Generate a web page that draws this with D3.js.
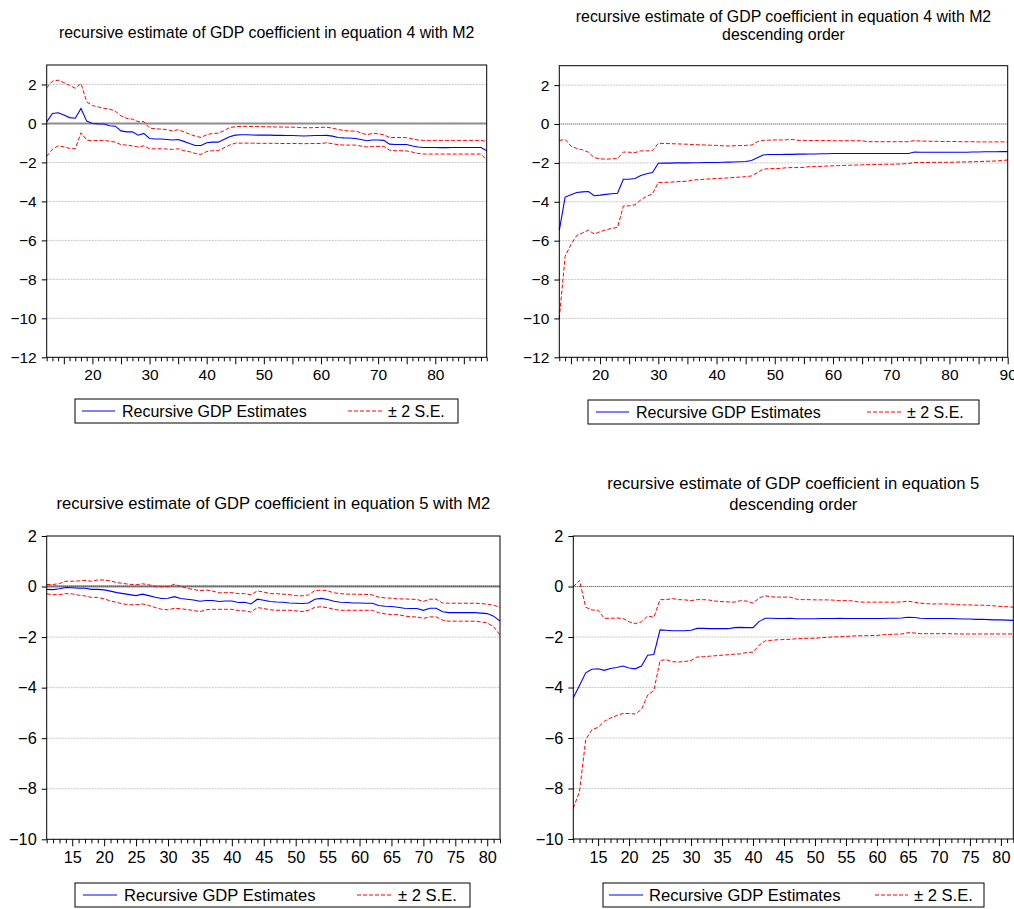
<!DOCTYPE html>
<html>
<head>
<meta charset="utf-8">
<script src="https://cdn.jsdelivr.net/npm/d3@7"></script>
<style>
  html, body { margin: 0; padding: 0; background: #fff; }
  svg { display: block; }
</style>
</head>
<body>
<svg id="chart" width="1014" height="909"></svg>
<script>
// ---------------- DATA ----------------
// Panel 1: equation 4 with M2 (observations 12..89)
const tlStart = 12;
const tlEstimate = [0.08,0.51,0.55,0.43,0.30,0.27,0.77,0.12,0.00,-0.02,-0.03,-0.12,-0.14,-0.38,-0.43,-0.43,-0.60,-0.51,-0.77,-0.80,
  -0.80,-0.82,-0.85,-0.82,-0.92,-1.03,-1.13,-1.13,-0.99,-0.96,-0.96,-0.82,-0.68,-0.60,-0.58,-0.58,-0.59,-0.60,-0.60,-0.60,
  -0.61,-0.61,-0.62,-0.62,-0.63,-0.64,-0.63,-0.62,-0.62,-0.61,-0.65,-0.72,-0.74,-0.75,-0.77,-0.82,-0.89,-0.85,-0.85,-0.87,
  -1.06,-1.08,-1.08,-1.08,-1.16,-1.21,-1.23,-1.23,-1.23,-1.24,-1.24,-1.23,-1.23,-1.23,-1.23,-1.23,-1.23,-1.40];
const tlUpper = [1.83,2.17,2.22,2.10,1.95,1.81,2.05,1.11,0.92,0.85,0.77,0.74,0.63,0.39,0.26,0.22,0.09,0.10,-0.24,-0.27,
  -0.29,-0.31,-0.39,-0.32,-0.43,-0.55,-0.65,-0.72,-0.58,-0.51,-0.50,-0.38,-0.21,-0.17,-0.15,-0.15,-0.16,-0.16,-0.17,-0.17,
  -0.18,-0.18,-0.19,-0.19,-0.20,-0.22,-0.22,-0.21,-0.20,-0.19,-0.24,-0.31,-0.36,-0.39,-0.39,-0.48,-0.58,-0.51,-0.53,-0.58,
  -0.72,-0.72,-0.72,-0.73,-0.79,-0.85,-0.87,-0.87,-0.87,-0.87,-0.87,-0.87,-0.87,-0.87,-0.87,-0.87,-0.87,-0.92];
const tlLower = [-1.68,-1.33,-1.15,-1.20,-1.28,-1.30,-0.48,-0.85,-0.89,-0.87,-0.87,-0.91,-0.96,-1.09,-1.11,-1.15,-1.21,-1.15,-1.30,-1.30,
  -1.30,-1.31,-1.33,-1.30,-1.40,-1.45,-1.54,-1.59,-1.44,-1.40,-1.40,-1.25,-1.11,-1.01,-1.01,-1.01,-1.01,-1.02,-1.02,-1.02,
  -1.02,-1.03,-1.03,-1.03,-1.03,-1.04,-1.03,-1.03,-1.03,-0.99,-1.04,-1.09,-1.11,-1.11,-1.11,-1.16,-1.21,-1.18,-1.18,-1.18,
  -1.37,-1.40,-1.40,-1.41,-1.47,-1.54,-1.57,-1.57,-1.57,-1.57,-1.57,-1.57,-1.57,-1.57,-1.57,-1.57,-1.57,-1.88];

// Panel 2: equation 4 with M2, descending order (observations 13..90)
const trStart = 13;
const trEstimate = [-5.47,-3.76,-3.64,-3.52,-3.49,-3.47,-3.69,-3.66,-3.62,-3.59,-3.56,-2.84,-2.84,-2.80,-2.65,-2.56,-2.50,-2.02,-2.01,-2.01,
  -2.00,-2.00,-2.00,-1.99,-1.99,-1.98,-1.98,-1.98,-1.97,-1.96,-1.95,-1.94,-1.93,-1.88,-1.74,-1.59,-1.57,-1.57,-1.57,-1.56,
  -1.56,-1.55,-1.55,-1.54,-1.54,-1.53,-1.53,-1.52,-1.52,-1.52,-1.52,-1.52,-1.52,-1.52,-1.52,-1.52,-1.52,-1.52,-1.52,-1.52,
  -1.52,-1.44,-1.45,-1.45,-1.45,-1.45,-1.45,-1.45,-1.45,-1.45,-1.45,-1.44,-1.44,-1.43,-1.43,-1.43,-1.42,-1.42];
const trUpper = [-0.85,-0.79,-1.13,-1.26,-1.33,-1.45,-1.73,-1.79,-1.81,-1.79,-1.78,-1.44,-1.45,-1.47,-1.38,-1.38,-1.37,-0.99,-1.00,-1.01,
  -1.02,-1.03,-1.04,-1.06,-1.07,-1.08,-1.09,-1.10,-1.12,-1.13,-1.12,-1.11,-1.10,-1.08,-0.91,-0.84,-0.83,-0.82,-0.82,-0.81,
  -0.79,-0.84,-0.84,-0.85,-0.85,-0.85,-0.85,-0.86,-0.86,-0.86,-0.86,-0.86,-0.86,-0.91,-0.91,-0.91,-0.91,-0.91,-0.91,-0.91,
  -0.91,-0.85,-0.88,-0.88,-0.89,-0.89,-0.90,-0.90,-0.90,-0.91,-0.91,-0.91,-0.92,-0.92,-0.92,-0.92,-0.92,-0.92];
const trLower = [-10.0,-6.80,-6.20,-5.73,-5.60,-5.46,-5.66,-5.54,-5.44,-5.37,-5.32,-4.22,-4.21,-4.15,-3.90,-3.72,-3.59,-3.01,-3.00,-2.99,
  -2.97,-2.96,-2.94,-2.88,-2.86,-2.84,-2.82,-2.80,-2.79,-2.77,-2.75,-2.73,-2.71,-2.67,-2.50,-2.32,-2.30,-2.29,-2.28,-2.25,
  -2.24,-2.24,-2.23,-2.19,-2.19,-2.18,-2.16,-2.15,-2.14,-2.13,-2.12,-2.11,-2.10,-2.09,-2.08,-2.08,-2.07,-2.07,-2.06,-2.05,
  -2.03,-1.98,-1.98,-1.98,-1.97,-1.97,-1.97,-1.97,-1.96,-1.95,-1.95,-1.94,-1.93,-1.92,-1.91,-1.90,-1.88,-1.85];

// Panel 3: equation 5 with M2 (observations 11..82)
const blStart = 11;
const blEstimate = [-0.11,-0.12,-0.09,-0.04,-0.05,-0.07,-0.07,-0.11,-0.11,-0.13,-0.18,-0.24,-0.28,-0.32,-0.36,-0.30,-0.36,-0.42,-0.47,-0.46,
  -0.40,-0.47,-0.50,-0.53,-0.58,-0.55,-0.55,-0.59,-0.57,-0.57,-0.63,-0.62,-0.69,-0.50,-0.54,-0.59,-0.61,-0.62,-0.65,-0.66,
  -0.67,-0.65,-0.50,-0.47,-0.51,-0.58,-0.62,-0.63,-0.65,-0.65,-0.66,-0.66,-0.75,-0.78,-0.79,-0.82,-0.86,-0.87,-0.87,-0.94,
  -0.86,-0.86,-1.00,-1.03,-1.03,-1.03,-1.03,-1.03,-1.05,-1.07,-1.17,-1.37];
const blUpper = [0.08,0.08,0.12,0.21,0.21,0.22,0.24,0.21,0.26,0.26,0.22,0.16,0.12,0.09,0.07,0.11,0.07,0.01,-0.01,0.00,
  0.09,0.00,-0.07,-0.12,-0.16,-0.14,-0.18,-0.25,-0.24,-0.24,-0.28,-0.28,-0.33,-0.17,-0.22,-0.28,-0.28,-0.30,-0.32,-0.36,
  -0.37,-0.33,-0.16,-0.14,-0.17,-0.25,-0.28,-0.30,-0.30,-0.31,-0.31,-0.33,-0.42,-0.45,-0.46,-0.49,-0.49,-0.50,-0.51,-0.59,
  -0.50,-0.50,-0.65,-0.66,-0.66,-0.66,-0.66,-0.66,-0.67,-0.70,-0.74,-0.82];
const blLower = [-0.29,-0.32,-0.32,-0.28,-0.29,-0.34,-0.37,-0.43,-0.43,-0.49,-0.57,-0.63,-0.69,-0.72,-0.72,-0.69,-0.75,-0.83,-0.90,-0.92,
  -0.86,-0.88,-0.91,-0.95,-0.99,-0.92,-0.90,-0.90,-0.90,-0.90,-0.95,-0.96,-1.01,-0.83,-0.87,-0.92,-0.94,-0.94,-0.94,-0.96,
  -0.99,-0.94,-0.82,-0.80,-0.84,-0.90,-0.94,-0.94,-0.94,-0.94,-0.94,-0.94,-1.04,-1.08,-1.11,-1.11,-1.16,-1.20,-1.20,-1.26,
  -1.20,-1.20,-1.33,-1.37,-1.37,-1.37,-1.37,-1.37,-1.40,-1.44,-1.59,-1.92];

// Panel 4: equation 5, descending order (observations 11..82)
const brStart = 11;
const brEstimate = [-4.41,-3.92,-3.42,-3.28,-3.26,-3.32,-3.25,-3.21,-3.15,-3.23,-3.26,-3.15,-2.72,-2.69,-1.72,-1.73,-1.75,-1.75,-1.75,-1.73,
  -1.66,-1.66,-1.67,-1.67,-1.67,-1.67,-1.63,-1.62,-1.63,-1.63,-1.38,-1.26,-1.26,-1.27,-1.27,-1.26,-1.28,-1.28,-1.28,-1.28,
  -1.27,-1.27,-1.27,-1.26,-1.27,-1.27,-1.27,-1.27,-1.27,-1.27,-1.27,-1.26,-1.26,-1.25,-1.22,-1.23,-1.26,-1.27,-1.27,-1.27,
  -1.27,-1.27,-1.28,-1.29,-1.29,-1.30,-1.30,-1.31,-1.32,-1.32,-1.33,-1.34];
const brUpper = [-0.01,0.24,-0.82,-0.93,-0.94,-1.26,-1.26,-1.25,-1.26,-1.40,-1.47,-1.40,-1.17,-1.22,-0.52,-0.52,-0.48,-0.52,-0.53,-0.56,
  -0.52,-0.52,-0.54,-0.58,-0.60,-0.61,-0.62,-0.56,-0.58,-0.66,-0.45,-0.37,-0.41,-0.42,-0.42,-0.42,-0.50,-0.52,-0.52,-0.53,
  -0.53,-0.53,-0.54,-0.56,-0.56,-0.57,-0.61,-0.62,-0.62,-0.62,-0.62,-0.62,-0.62,-0.61,-0.58,-0.62,-0.66,-0.68,-0.69,-0.69,
  -0.69,-0.70,-0.72,-0.73,-0.73,-0.74,-0.74,-0.75,-0.77,-0.79,-0.80,-0.82];
const brLower = [-8.78,-8.12,-6.07,-5.67,-5.58,-5.34,-5.21,-5.11,-5.03,-5.03,-5.05,-4.87,-4.30,-4.12,-2.93,-2.90,-2.98,-2.99,-2.97,-2.93,
  -2.79,-2.78,-2.76,-2.74,-2.72,-2.70,-2.68,-2.67,-2.61,-2.60,-2.32,-2.15,-2.13,-2.11,-2.10,-2.09,-2.07,-2.06,-2.05,-2.05,
  -2.03,-2.01,-2.00,-1.99,-1.98,-1.96,-1.95,-1.95,-1.94,-1.94,-1.91,-1.90,-1.89,-1.88,-1.83,-1.84,-1.87,-1.87,-1.87,-1.87,
  -1.87,-1.87,-1.88,-1.88,-1.88,-1.88,-1.88,-1.88,-1.88,-1.88,-1.88,-1.88];

// Titles and tick labels
const tlTitle = ["recursive estimate of GDP coefficient in equation 4 with M2"];
const trTitle = ["recursive estimate of GDP coefficient in equation 4 with M2", "descending order"];
const blTitle = ["recursive estimate of GDP coefficient in equation 5 with M2"];
const brTitle = ["recursive estimate of GDP coefficient in equation 5", "descending order"];
const topYTicks = [2, 0, -2, -4, -6, -8, -10, -12];
const bottomYTicks = [2, 0, -2, -4, -6, -8, -10];
const tlXLabels = [20, 30, 40, 50, 60, 70, 80];
const trXLabels = [20, 30, 40, 50, 60, 70, 80, 90];
const bottomXLabels = [15, 20, 25, 30, 35, 40, 45, 50, 55, 60, 65, 70, 75, 80];
const legendLabels = ["Recursive GDP Estimates", "\u00b1 2 S.E."];

// ---------------- LAYOUT ----------------
const FONT = "'Liberation Sans', Arial, Helvetica, sans-serif";
const BLUE = "#0000ff", RED = "#ff0000";

const panels = [
  { start: tlStart, est: tlEstimate, up: tlUpper, lo: tlLower, title: tlTitle, titleY: [38], tfs: 15.9,
    x0: 46.7, x1: 486.7, y0: 65, y1: 357.3, xDom: [12, 89], yDom: [-12, 3],
    yTicks: topYTicks, xLabels: tlXLabels, fs: 15.5, zero: "thick",
    legend: { x0: 75, x1: 458, y0: 399, y1: 423, line: [82, 115], text: 122, dline: [348, 382], dtext: 388, fs: 16 } },
  { start: trStart, est: trEstimate, up: trUpper, lo: trLower, title: trTitle, titleY: [22, 40], tfs: 15.9,
    x0: 559.3, x1: 1007.7, y0: 65.7, y1: 357.3, xDom: [13, 90], yDom: [-12, 3],
    yTicks: topYTicks, xLabels: trXLabels, fs: 15.5, zero: "dotted",
    legend: { x0: 588, x1: 979, y0: 400, y1: 424, line: [596, 629], text: 636, dline: [867, 902], dtext: 907, fs: 16 } },
  { start: blStart, est: blEstimate, up: blUpper, lo: blLower, title: blTitle, titleY: [509], tfs: 16.6,
    x0: 46.7, x1: 500, y0: 536, y1: 839.3, xDom: [11, 82], yDom: [-10, 2],
    yTicks: bottomYTicks, xLabels: bottomXLabels, fs: 16.3, zero: "both",
    legend: { x0: 75, x1: 470, y0: 883, y1: 907, line: [83, 117], text: 124, dline: [357, 392], dtext: 398, fs: 16.6 } },
  { start: brStart, est: brEstimate, up: brUpper, lo: brLower, title: brTitle, titleY: [489, 510], tfs: 16.6,
    x0: 573.3, x1: 1013.3, y0: 536, y1: 839, xDom: [11, 82], yDom: [-10, 2],
    yTicks: bottomYTicks, xLabels: bottomXLabels, fs: 16.3, zero: "dotted",
    legend: { x0: 603, x1: 984, y0: 883, y1: 907, line: [609, 643], text: 649, dline: [875, 908], dtext: 914, fs: 16.6 } }
];

const svg = d3.select("#chart");

panels.forEach(p => {
  const g = svg.append("g");
  const x = d3.scaleLinear().domain(p.xDom).range([p.x0, p.x1]);
  const y = d3.scaleLinear().domain(p.yDom).range([p.y1, p.y0]);

  // title
  p.title.forEach((t, i) => {
    g.append("text").attr("x", (p.x0 + p.x1) / 2).attr("y", p.titleY[i])
      .attr("text-anchor", "middle").attr("font-family", FONT).attr("font-size", p.tfs)
      .attr("fill", "#000").text(t);
  });

  // gridlines
  p.yTicks.filter(v => v !== 0 && v > p.yDom[0] && v < p.yDom[1]).forEach(v => {
    g.append("line").attr("x1", p.x0).attr("x2", p.x1).attr("y1", y(v)).attr("y2", y(v))
      .attr("stroke", "#b8b8b8").attr("stroke-width", 0.8).attr("stroke-dasharray", "2,1");
  });
  // zero line
  if (p.zero === "thick" || p.zero === "both") {
    g.append("line").attr("x1", p.x0).attr("x2", p.x1).attr("y1", y(0)).attr("y2", y(0))
      .attr("stroke", "#8c8c8c").attr("stroke-width", 2);
  }
  if (p.zero === "dotted" || p.zero === "both") {
    const off = p.zero === "both" ? 0.5 : 0;
    g.append("line").attr("x1", p.x0).attr("x2", p.x1).attr("y1", y(0) - off).attr("y2", y(0) - off)
      .attr("stroke", "#333").attr("stroke-width", 1).attr("stroke-dasharray", "1,1");
  }

  // series
  const obs = d3.range(p.start, p.start + p.est.length);
  const line = d3.line().x((d, i) => x(obs[i])).y(d => y(d));
  g.append("path").datum(p.up).attr("d", line).attr("fill", "none")
    .attr("stroke", RED).attr("stroke-width", 1).attr("stroke-dasharray", "4,2");
  g.append("path").datum(p.lo).attr("d", line).attr("fill", "none")
    .attr("stroke", RED).attr("stroke-width", 1).attr("stroke-dasharray", "4,2");
  g.append("path").datum(p.est).attr("d", line).attr("fill", "none")
    .attr("stroke", BLUE).attr("stroke-width", 1.1);

  // frame
  g.append("rect").attr("x", p.x0).attr("y", p.y0).attr("width", p.x1 - p.x0).attr("height", p.y1 - p.y0)
    .attr("fill", "none").attr("stroke", "#000").attr("stroke-width", 1);

  // y axis
  const ya = g.append("g").attr("transform", `translate(${p.x0},0)`)
    .call(d3.axisLeft(y).tickValues(p.yTicks).tickSize(5).tickPadding(5).tickFormat(d3.format("d")));
  ya.select(".domain").remove();
  ya.selectAll("text").attr("font-family", FONT).attr("font-size", p.fs).attr("fill", "#000");

  // x axis: minor ticks every observation, major every 5
  const allVals = d3.range(Math.ceil(p.xDom[0]), Math.floor(p.xDom[1]) + 1);
  const minorVals = allVals.filter(v => v % 5 !== 0);
  const majorVals = allVals.filter(v => v % 5 === 0);
  const xm = g.append("g").attr("transform", `translate(0,${p.y1})`)
    .call(d3.axisBottom(x).tickValues(minorVals).tickSize(4).tickFormat(""));
  xm.select(".domain").remove();
  const xM = g.append("g").attr("transform", `translate(0,${p.y1})`)
    .call(d3.axisBottom(x).tickValues(majorVals).tickSize(7).tickPadding(5)
      .tickFormat(d => p.xLabels.includes(d) ? String(d) : ""));
  xM.select(".domain").remove();
  xM.selectAll("text").attr("font-family", FONT).attr("font-size", p.fs).attr("fill", "#000");
  g.selectAll(".tick line").attr("stroke", "#000");

  // legend
  const L = p.legend;
  g.append("rect").attr("x", L.x0).attr("y", L.y0).attr("width", L.x1 - L.x0).attr("height", L.y1 - L.y0)
    .attr("fill", "#fff").attr("stroke", "#000").attr("stroke-width", 1);
  const ly = (L.y0 + L.y1) / 2;
  g.append("line").attr("x1", L.line[0]).attr("x2", L.line[1]).attr("y1", ly).attr("y2", ly)
    .attr("stroke", BLUE).attr("stroke-width", 1);
  g.append("text").attr("x", L.text).attr("y", ly).attr("dy", "0.36em").attr("font-family", FONT)
    .attr("font-size", L.fs).attr("fill", "#000").text(legendLabels[0]);
  g.append("line").attr("x1", L.dline[0]).attr("x2", L.dline[1]).attr("y1", ly).attr("y2", ly)
    .attr("stroke", RED).attr("stroke-width", 1).attr("stroke-dasharray", "4,2");
  g.append("text").attr("x", L.dtext).attr("y", ly).attr("dy", "0.36em").attr("font-family", FONT)
    .attr("font-size", L.fs).attr("fill", "#000").text(legendLabels[1]);
});
</script>
</body>
</html>
